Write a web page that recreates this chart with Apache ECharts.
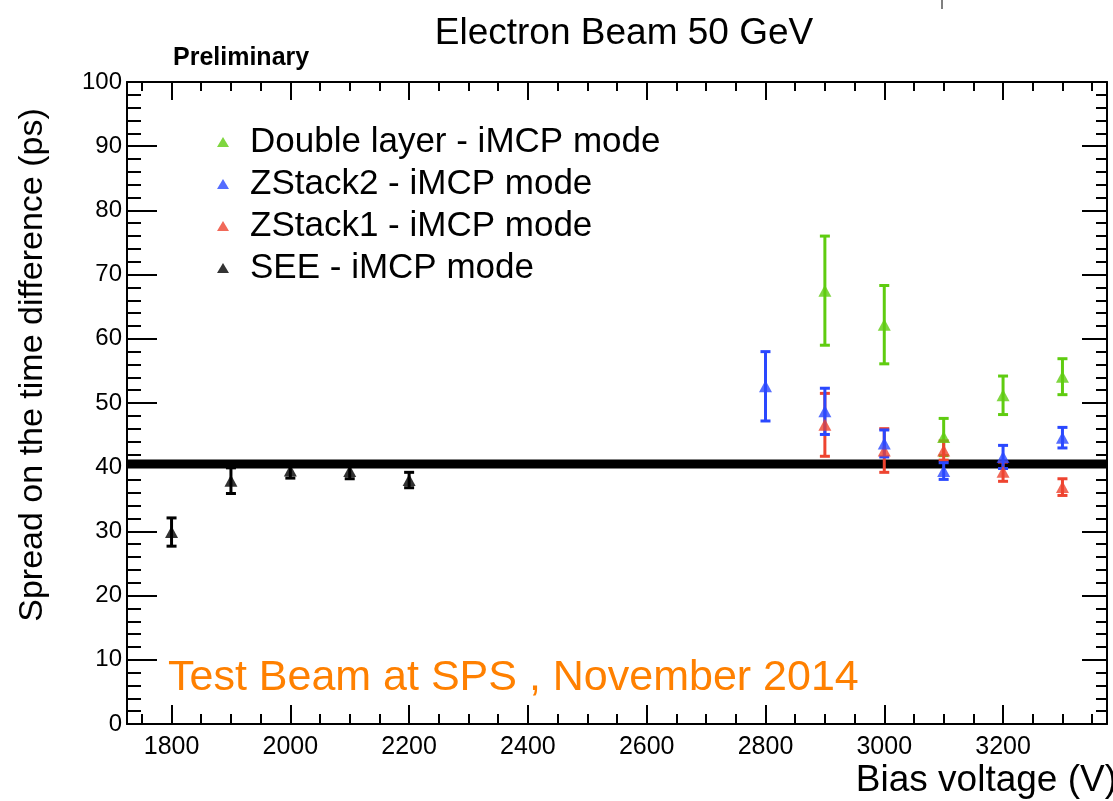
<!DOCTYPE html>
<html>
<head>
<meta charset="utf-8">
<script src="https://cdn.jsdelivr.net/npm/echarts@6/dist/echarts.min.js"></script>
<style>html,body{margin:0;padding:0;background:#fff}#c{width:1113px;height:801px}</style>
</head>
<body>
<div id="c"></div>
<script>
// ---- data ----
const voltSEE = [1800, 1900, 2000, 2100, 2200];
const valSEE = [29.9, 37.9, 39.5, 39.4, 38.0];
const errSEE = [2.2, 2.0, 1.2, 1.2, 1.2];

const voltZS2 = [2800, 2900, 3000, 3100, 3200, 3300];
const valZS2 = [52.6, 48.7, 43.7, 39.4, 41.6, 44.6];
const errZS2 = [5.4, 3.6, 2.1, 1.3, 1.8, 1.6];

const voltZS1 = [2900, 3000, 3100, 3200, 3300];
const valZS1 = [46.6, 42.6, 42.6, 39.3, 36.9];
const errZS1 = [4.9, 3.4, 1.5, 1.5, 1.3];

const voltDL = [2900, 3000, 3100, 3200, 3300];
const valDL = [67.5, 62.2, 44.7, 51.2, 54.1];
const errDL = [8.5, 6.1, 2.9, 3.0, 2.8];

const refLevel = 40.5;
const xRange = [1725, 3375];
const yRange = [0, 100];
const xMajorTicks = [1800, 2000, 2200, 2400, 2600, 2800, 3000, 3200];
const xMinorTicks = [];
for (let v = 1750; v <= 3350; v += 50) xMinorTicks.push(v);

const seriesNames = ['Double layer - iMCP mode', 'ZStack2 - iMCP mode', 'ZStack1 - iMCP mode', 'SEE - iMCP mode'];
const colors = ['#5fcc10', '#2a48ff', '#ee4430', '#000000'];

// ---- build ----
function pts(xs, ys) { return xs.map((x, i) => [x, ys[i]]); }
function errPts(xs, ys, es) { return xs.map((x, i) => [x, ys[i], es[i]]); }

function errorSeries(data, color) {
  return {
    type: 'custom',
    xAxisIndex: 0, yAxisIndex: 0,
    z: 3,
    silent: true,
    data: data,
    renderItem: function (params, api) {
      const x = api.value(0), y = api.value(1), e = api.value(2);
      const lo = api.coord([x, y - e]);
      const hi = api.coord([x, y + e]);
      const w = 5;
      const st = { stroke: color, lineWidth: 3 };
      return {
        type: 'group',
        children: [
          { type: 'line', shape: { x1: lo[0], y1: lo[1], x2: hi[0], y2: hi[1] }, style: st },
          { type: 'line', shape: { x1: lo[0] - w, y1: lo[1], x2: lo[0] + w, y2: lo[1] }, style: st },
          { type: 'line', shape: { x1: hi[0] - w, y1: hi[1], x2: hi[0] + w, y2: hi[1] }, style: st }
        ]
      };
    }
  };
}
function markerSeries(name, data, color) {
  return {
    name: name, type: 'scatter', xAxisIndex: 0, yAxisIndex: 0, z: 4,
    symbol: 'triangle', symbolSize: [13, 12],
    itemStyle: { color: color },
    data: data
  };
}

const tickColor = '#000';
const font = 'Liberation Sans, Arial, Helvetica, sans-serif';
const plainNum = v => String(v);

const chart = echarts.init(document.getElementById('c'), null, { renderer: 'canvas' });
chart.setOption({
  animation: false,
  backgroundColor: '#fff',
  grid: { left: 127, right: 6, top: 82, bottom: 77, containLabel: false },
  title: {
    text: 'Electron Beam 50 GeV', left: 619, top: 10, textAlign: 'center',
    textStyle: { fontFamily: font, fontSize: 37, fontWeight: 'normal', color: '#000' }
  },
  legend: {
    orient: 'vertical', left: 212, top: 117, itemGap: 2,
    itemWidth: 12, itemHeight: 10, icon: 'triangle',
    data: seriesNames,
    textStyle: { fontFamily: font, fontSize: 35, lineHeight: 40, color: '#000', padding: [0, 0, 0, 16] },
    selectedMode: false
  },
  xAxis: [
    {
      type: 'value', min: xRange[0], max: xRange[1], position: 'bottom',
      axisLine: { show: true, lineStyle: { color: tickColor, width: 2 } },
      axisTick: { show: true, inside: true, length: 19, customValues: xMajorTicks, lineStyle: { color: tickColor, width: 2 } },
      axisLabel: { show: true, customValues: xMajorTicks, formatter: plainNum, fontFamily: font, fontSize: 25, color: '#000', margin: 11 },
      splitLine: { show: false }
    },
    {
      type: 'value', min: xRange[0], max: xRange[1], position: 'bottom',
      axisLine: { show: false },
      axisTick: { show: true, inside: true, length: 10, customValues: xMinorTicks, lineStyle: { color: tickColor, width: 2 } },
      axisLabel: { show: false }, splitLine: { show: false }
    },
    {
      type: 'value', min: xRange[0], max: xRange[1], position: 'top',
      axisLine: { show: true, lineStyle: { color: tickColor, width: 2 } },
      axisTick: { show: true, inside: true, length: 18, customValues: xMajorTicks, lineStyle: { color: tickColor, width: 2 } },
      axisLabel: { show: false }, splitLine: { show: false }
    },
    {
      type: 'value', min: xRange[0], max: xRange[1], position: 'top',
      axisLine: { show: false },
      axisTick: { show: true, inside: true, length: 9, customValues: xMinorTicks, lineStyle: { color: tickColor, width: 2 } },
      axisLabel: { show: false }, splitLine: { show: false }
    }
  ],
  yAxis: [
    {
      type: 'value', min: yRange[0], max: yRange[1], interval: 10, position: 'left',
      axisLine: { show: true, lineStyle: { color: tickColor, width: 2 } },
      axisTick: { show: true, inside: true, length: 30, lineStyle: { color: tickColor, width: 2 } },
      minorTick: { show: true, splitNumber: 5, length: 14, lineStyle: { color: tickColor, width: 2 } },
      axisLabel: { fontFamily: font, fontSize: 24, color: '#000', margin: 5, formatter: plainNum },
      splitLine: { show: false }
    },
    {
      type: 'value', min: yRange[0], max: yRange[1], interval: 10, position: 'right',
      axisLine: { show: true, lineStyle: { color: tickColor, width: 2 } },
      axisTick: { show: true, inside: true, length: 25, lineStyle: { color: tickColor, width: 2 } },
      minorTick: { show: true, splitNumber: 5, length: 11, lineStyle: { color: tickColor, width: 2 } },
      axisLabel: { show: false }, splitLine: { show: false }
    }
  ],
  graphic: [
    { type: 'text', left: 173, top: 46, style: { text: 'Preliminary', font: 'bold 25px ' + font, fill: '#000' } },
    { type: 'text', right: -4, top: 762, style: { text: 'Bias voltage (V)', font: '37px ' + font, fill: '#000' } },
    { type: 'text', x: 33, y: 365, rotation: Math.PI / 2, style: { text: 'Spread on the time difference (ps)', font: '34px ' + font, fill: '#000', align: 'center', verticalAlign: 'middle' } },
    { type: 'text', left: 168, top: 657, style: { text: 'Test Beam at SPS , November 2014', font: '43px ' + font, fill: '#ff8000' } },
    { type: 'line', shape: { x1: 942, y1: 0, x2: 942, y2: 9 }, style: { stroke: '#000', lineWidth: 1 } }
  ],
  series: [
    {
      type: 'line', xAxisIndex: 0, yAxisIndex: 0, z: 2, silent: true,
      symbol: 'none', lineStyle: { color: '#000', width: 9 },
      data: [[xRange[0], refLevel], [xRange[1], refLevel]]
    },
    errorSeries(errPts(voltDL, valDL, errDL), colors[0]),
    errorSeries(errPts(voltZS1, valZS1, errZS1), colors[2]),
    errorSeries(errPts(voltZS2, valZS2, errZS2), colors[1]),
    errorSeries(errPts(voltSEE, valSEE, errSEE), colors[3]),
    markerSeries(seriesNames[0], pts(voltDL, valDL), colors[0]),
    markerSeries(seriesNames[2], pts(voltZS1, valZS1), colors[2]),
    markerSeries(seriesNames[1], pts(voltZS2, valZS2), colors[1]),
    markerSeries(seriesNames[3], pts(voltSEE, valSEE), colors[3])
  ]
});
</script>
</body>
</html>
